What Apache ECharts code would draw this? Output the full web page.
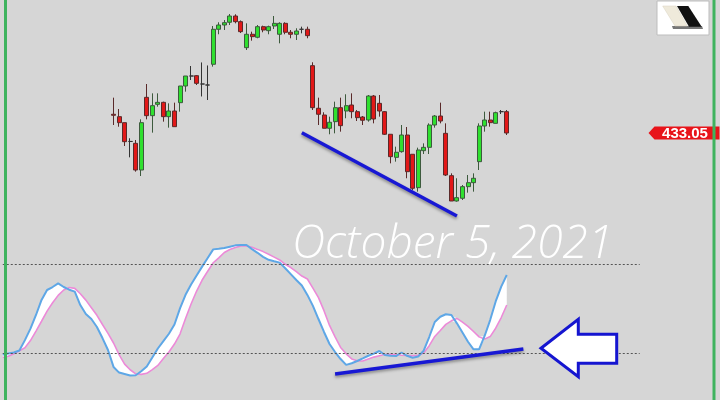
<!DOCTYPE html>
<html><head><meta charset="utf-8">
<script src="https://cdn.jsdelivr.net/npm/echarts@6/dist/echarts.min.js"></script>
<style>html,body{margin:0;padding:0;background:#d6d6d6}#c{width:720px;height:400px}</style>
</head><body><div id="c"></div>
<script>
// ---- data ----
const categoryCount = 130;
const categories = Array.from({length: categoryCount}, (_, i) => 'Bar ' + (i + 1));
const firstCandleIndex = 20;
// [open, close, low, high]
const candles = [
 [435.86,435.71,434.25,438.35],[435.50,434.60,433.99,436.65],[434.60,431.75,431.10,434.60],[431.78,431.78,429.40,432.26],
 [431.50,427.50,427.25,432.00],[427.50,434.60,426.60,435.10],[438.40,435.65,435.10,440.40],[435.65,437.15,433.10,439.00],
 [437.35,437.65,437.00,439.00],[437.65,435.50,434.75,437.75],[435.50,436.35,433.85,437.50],[436.35,434.00,434.00,437.60],
 [437.60,440.10,436.25,440.10],[440.10,441.60,439.25,441.60],[441.60,441.60,441.00,443.10],[441.65,440.50,440.25,441.75],
 [440.40,440.40,438.53,443.63],[440.25,440.25,438.00,443.18],[443.36,448.61,443.00,449.10],[448.61,449.25,447.86,449.66],
 [449.25,449.60,448.50,450.00],[449.66,450.60,449.25,450.90],[450.60,449.75,449.50,450.86],[449.75,448.25,448.05,449.93],
 [445.85,447.86,445.50,449.50],[447.86,447.50,446.90,448.25],[447.41,449.00,447.26,449.25],[449.00,448.50,448.16,449.15],
 [448.40,449.00,447.86,449.15],[449.10,449.50,448.65,450.60],[447.86,449.50,446.50,449.66],[449.50,448.16,447.86,449.66],
 [448.16,447.86,447.26,448.50],[447.86,448.35,447.00,448.76],[448.61,448.61,448.00,449.00],[448.61,447.65,447.26,449.00],
 [443.15,436.85,436.50,443.66],[436.76,435.86,434.25,438.35],[435.75,433.76,433.76,436.16],[433.76,434.66,432.86,435.50],
 [434.75,436.85,433.00,437.75],[436.85,434.15,433.25,438.35],[436.35,437.15,435.26,438.86],[437.25,436.25,435.26,439.00],
 [436.25,435.35,434.85,436.50],[435.45,434.96,434.25,435.60],[435.00,438.60,434.75,438.75],[438.60,435.15,434.50,438.75],
 [437.50,436.35,435.50,438.75],[436.25,432.86,432.75,436.35],[432.86,429.50,428.50,432.86],[429.40,430.16,428.75,431.00],
 [430.25,432.75,430.10,434.25],[432.75,427.25,426.26,433.95],[429.86,424.76,424.50,429.86],[424.85,430.50,424.25,430.85],
 [430.40,430.90,429.90,431.50],[430.90,434.25,429.90,434.50],[434.25,435.60,433.85,435.75],[435.60,434.85,434.50,437.60],
 [433.00,426.75,426.60,434.50],[426.65,422.85,422.85,427.00],[422.85,423.35,422.75,426.26],[423.26,425.00,423.00,425.25],
 [425.00,425.60,424.10,426.75],[425.60,426.26,424.25,427.00],[428.75,434.10,427.50,434.50],[434.10,435.00,433.25,436.25],
 [435.00,434.60,434.00,436.25],[434.50,436.10,434.50,436.25],[436.25,436.25,435.90,436.50],[436.25,433.05,432.75,436.50]
];
// stochastic %K (blue) and %D (pink), from the first bar
const stochK = [19.1,19.8,20.5,21.8,28.8,36.5,45.7,55.8,62.5,64.5,66.9,64.5,62.7,61.4,52.4,46.4,43.0,37.6,30.2,22.2,
 10.8,7.0,6.0,5.0,5.2,7.9,11.1,17.1,23.2,28.2,33.1,39.3,50.2,59.3,66.2,72.2,78.2,84.0,89.8,90.2,
 90.7,91.6,92.5,92.7,92.7,90.0,87.5,84.8,82.8,81.8,80.9,77.1,73.2,69.2,65.5,59.2,51.8,43.0,34.3,26.2,
 20.8,16.1,12.2,13.3,14.8,16.5,18.3,19.7,21.5,18.8,18.3,18.1,20.5,18.3,17.0,17.8,21.7,30.9,41.0,44.5,
 46.2,45.7,40.1,34.0,27.7,22.6,22.6,31.6,42.3,54.8,64.8,72.6];
const stochD = [17.1,18.0,19.6,21.6,23.7,28.5,34.9,41.5,48.3,53.9,58.9,62.5,64.2,63.6,60.0,55.7,50.6,45.5,39.3,33.3,
 26.9,19.1,12.7,8.9,6.2,5.8,6.5,9.0,11.8,16.4,20.8,26.2,32.9,43.3,53.1,61.8,69.2,75.1,80.8,84.1,
 87.7,89.7,91.0,92.1,92.1,91.2,89.8,88.3,86.5,84.6,82.7,79.8,77.6,74.9,71.9,69.9,63.8,57.4,48.6,38.7,
 31.0,23.9,19.6,16.2,14.9,14.8,16.1,17.4,18.3,19.2,19.3,19.0,18.7,18.5,18.2,18.6,20.2,25.1,31.3,35.3,
 39.4,41.8,43.4,40.9,38.1,34.6,31.0,29.5,31.2,36.8,44.0,52.4];
const lastPrice = 433.05;
const levelHigh = 80, levelLow = 20;
const priceTrend = [[54, 433.1], [82, 420.6]];
const stochTrend = [[60, 6.1], [94, 22.9]];
const dateText = 'October 5, 2021';

// ---- derived ----
const candleData = Array(firstCandleIndex).fill('-').concat(candles);
const bandBase = stochK.map((k, i) => Math.min(k, stochD[i]));
const bandSize = stochK.map((k, i) => Math.abs(k - stochD[i]));
const trendStyle = {color:'#1818d4', width:3.5, type:'solid', shadowColor:'rgba(0,0,0,0.35)', shadowBlur:3, shadowOffsetY:2};

const chart = echarts.init(document.getElementById('c'), null, {renderer:'canvas'});
chart.setOption({
  animation: false,
  backgroundColor: '#d6d6d6',
  grid: [
    {left:0, right:0, top:0, height:240},
    {left:0, right:0, top:234.2, height:148.8}
  ],
  xAxis: [
    {type:'category', data:categories, gridIndex:0, show:false, boundaryGap:true},
    {type:'category', data:categories, gridIndex:1, show:false, boundaryGap:true}
  ],
  yAxis: [
    {type:'value', gridIndex:0, min:417, max:453, show:false, splitLine:{show:false}},
    {type:'value', gridIndex:1, min:0, max:100, show:false, splitLine:{show:false}}
  ],
  series: [
    {
      type:'candlestick', xAxisIndex:0, yAxisIndex:0, data:candleData, barWidth:4.5, z:3,
      itemStyle:{color:'#2fe02f', color0:'#e21818', borderColor:'#3d5a3d', borderColor0:'#5a2a2a', borderColorDoji:'#333', borderWidth:1},
      markLine:{silent:true, symbol:['none','none'], label:{show:false}, lineStyle:trendStyle,
        data:[[{coord:priceTrend[0]},{coord:priceTrend[1]}]]},
      markPoint:{silent:true, symbol:'path://M0,6.5L6,0L71,0L71,13L6,13Z', symbolKeepAspect:false, symbolSize:[71,13],
        itemStyle:{color:'#e8141a'},
        label:{show:true, color:'#fff', fontWeight:'bold', fontSize:15, fontFamily:'Liberation Sans', offset:[1,1],
          formatter:()=>lastPrice.toFixed(2)},
        data:[{coord:[123, lastPrice]}]}
    },
    {type:'line', xAxisIndex:1, yAxisIndex:1, data:bandBase, stack:'band', symbol:'none', lineStyle:{opacity:0}, z:1},
    {type:'line', xAxisIndex:1, yAxisIndex:1, data:bandSize, stack:'band', symbol:'none', lineStyle:{opacity:0}, areaStyle:{color:'#ffffff', opacity:1}, z:1},
    {type:'line', xAxisIndex:1, yAxisIndex:1, data:stochD, symbol:'none', lineStyle:{color:'#ec8ad8', width:1.6}, z:2,
      markLine:{silent:true, symbol:['none','none'], label:{show:false},
        lineStyle:{color:'#555', width:1, type:[2,2]},
        data:[[{coord:[0,levelHigh]},{coord:[115,levelHigh]}],[{coord:[0,levelLow]},{coord:[115,levelLow]}]]}},
    {type:'line', xAxisIndex:1, yAxisIndex:1, data:stochK, symbol:'none', lineStyle:{color:'#5ea7e6', width:2}, z:3,
      markLine:{silent:true, symbol:['none','none'], label:{show:false}, lineStyle:trendStyle,
        data:[[{coord:stochTrend[0]},{coord:stochTrend[1]}]]}}
  ],
  graphic: [
    {type:'line', shape:{x1:5.5,y1:0,x2:5.5,y2:400}, style:{stroke:'#3fb35e', lineWidth:3}, z:100},
    {type:'line', shape:{x1:714,y1:0,x2:714,y2:400}, style:{stroke:'#3fb35e', lineWidth:3}, z:100},
    {type:'text', x:292, y:222, z:90, style:{text:dateText, fill:'#ffffff', font:'italic 300 46px "Open Sans"'}},
    {type:'polygon', z:95, shape:{points:[[541,348.3],[578.3,319.3],[578.3,334.3],[616.7,334.3],[616.7,363.3],[578.3,363.3],[578.3,376.7]]},
      style:{fill:'#ffffff', stroke:'#1515d0', lineWidth:3}},
    {type:'rect', z:95, shape:{x:657,y:1,width:52,height:34}, style:{fill:'#ffffff', stroke:'#bdbdbd', lineWidth:1}},
    {type:'polygon', z:96, shape:{points:[[672,26],[702,26],[703,29],[673,29]]}, style:{fill:'#777'}},
    {type:'polygon', z:97, shape:{points:[[662.7,6],[676,6],[687.3,26],[675,26]]}, style:{fill:'#efeadb', stroke:'#d8d2c0', lineWidth:0.5}},
    {type:'polygon', z:97, shape:{points:[[677,6],[688.3,6],[701.7,26.7],[689,26.7]]}, style:{fill:'#111'}}
  ]
});
</script></body></html>
